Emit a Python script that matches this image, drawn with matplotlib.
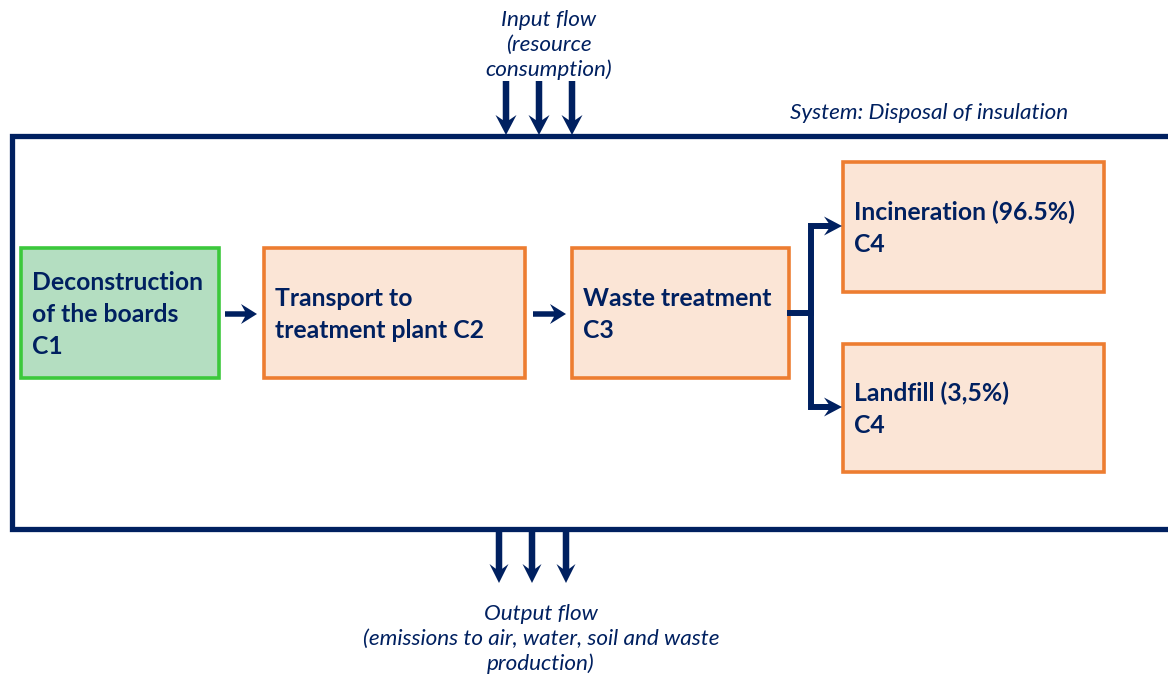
import matplotlib
matplotlib.use("Agg")
import matplotlib.pyplot as plt
from matplotlib.patches import Rectangle

# ── Diagram content ───────────────────────────────────────────────────────────
STAGE_LINES = [
    ["Deconstruction", "of the boards", "C1"],
    ["Transport to", "treatment plant C2"],
    ["Waste treatment", "C3"],
    ["Incineration (96.5%)", "C4"],
    ["Landfill (3,5%)", "C4"],
]
INPUT_LINES  = ["Input flow", "(resource", "consumption)"]
OUTPUT_LINES = ["Output flow", "(emissions to air, water, soil and waste", "production)"]
SYSTEM_LABEL = "System: Disposal of insulation"

# ── Style / layout (pixel coords, y down) ─────────────────────────────────────
NAVY   = "#002060"
ORANGE = "#ED7D31"
PEACH  = "#FBE5D6"
GREEN  = "#3CC83C"
MINT   = "#B4DEC1"
FONT   = "Lato"
IT_SIZE = 16.2
BOLD_SIZE = 17.8

# x0, y0, x1, y1 for each box
BOXES = [(21, 248, 219, 378), (264, 248, 525, 378), (572, 248, 789, 378),
         (843, 162, 1104, 292), (843, 344, 1104, 472)]
FIRST_BASE = [290, 306, 306, 220, 401]
LINE_STEP  = 32

fig = plt.figure(figsize=(11.68, 6.74), dpi=100)
ax = fig.add_axes([0, 0, 1, 1])
ax.set_xlim(0, 1168)
ax.set_ylim(674, 0)
ax.axis("off")

def arrow(x, y, dx, dy, w=6, hw=20, hl=18):
    ax.arrow(x, y, dx, dy, width=w, head_width=hw, head_length=hl,
             length_includes_head=True, overhang=0.25, color=NAVY, lw=0, zorder=4)

# system frame (open on the right)
ax.plot([1175, 12, 12, 1175], [136, 136, 529, 529], color=NAVY, lw=3.8,
        solid_joinstyle="miter", zorder=2)
ax.text(1068, 119, SYSTEM_LABEL, ha="right", va="baseline", style="italic",
        fontsize=IT_SIZE, color=NAVY, family=FONT)

# input / output flows
for i, s in enumerate(INPUT_LINES):
    ax.text(549, 26.5 + 24.5 * i, s, ha="center", va="baseline", style="italic",
            fontsize=IT_SIZE, color=NAVY, family=FONT)
for x in (506, 539, 572):
    arrow(x, 81, 0, 54, w=6.5, hw=21, hl=20)

for i, s in enumerate(OUTPUT_LINES):
    ax.text(541, 620 + 25 * i, s, ha="center", va="baseline", style="italic",
            fontsize=IT_SIZE, color=NAVY, family=FONT)
for x in (499, 532, 566):
    arrow(x, 531, 0, 52, w=6.5, hw=19, hl=19)

# boxes
for k, ((x0, y0, x1, y1), lines) in enumerate(zip(BOXES, STAGE_LINES)):
    fc, ec = (MINT, GREEN) if k == 0 else (PEACH, ORANGE)
    ax.add_patch(Rectangle((x0, y0), x1 - x0, y1 - y0, facecolor=fc,
                           edgecolor=ec, lw=2.6, zorder=3))
    for i, s in enumerate(lines):
        ax.text(x0 + 11, FIRST_BASE[k] + LINE_STEP * i, s, ha="left", va="baseline",
                fontsize=BOLD_SIZE, fontweight="bold", color=NAVY, family=FONT, zorder=5)

# arrows between stages
arrow(225, 314, 32, 0, w=5.5, hw=20, hl=16)
arrow(533, 314, 33, 0, w=5.5, hw=20, hl=16)

# branch to C4 options
ax.plot([790, 811], [313, 313], color=NAVY, lw=4.3, zorder=3)
ax.plot([825, 811, 811, 825], [226, 226, 407, 407], color=NAVY, lw=4.3,
        solid_joinstyle="miter", zorder=3)
arrow(820, 226, 22, 0, w=6, hw=19, hl=18)
arrow(820, 407, 22, 0, w=6, hw=19, hl=18)

fig.savefig("out.png", dpi=100)
